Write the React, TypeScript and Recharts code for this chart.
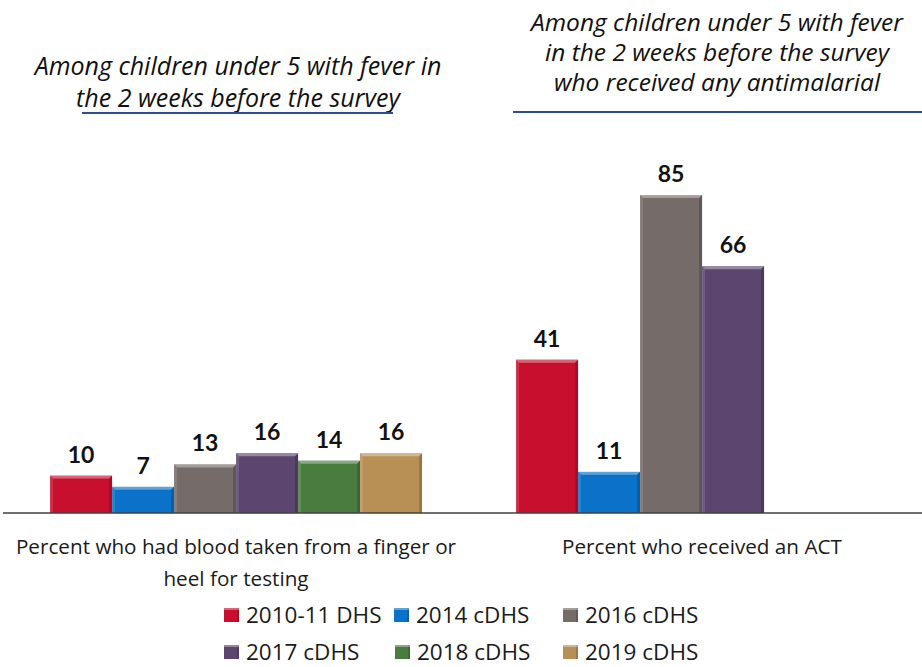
import React from "react";
import { Bar, BarChart, LabelList, XAxis, YAxis } from "recharts";

const categories = [
  "Percent who had blood taken from a finger or heel for testing",
  "Percent who received an ACT",
];
const tickLines = [
  ["Percent who had blood taken from a finger or", "heel for testing"],
  ["Percent who received an ACT"],
];
const seriesNames = ["2010-11 DHS", "2014 cDHS", "2016 cDHS", "2017 cDHS", "2018 cDHS", "2019 cDHS"];
const seriesColors = ["#C8102E", "#0A72C8", "#756B68", "#5C4670", "#4A7C3F", "#B89055"];
const dhs2010 = [10, 41];
const cdhs2014 = [7, 11];
const cdhs2016 = [13, 85];
const cdhs2017 = [16, 66];
const cdhs2018 = [14, null];
const cdhs2019 = [16, null];

const seriesValues = [dhs2010, cdhs2014, cdhs2016, cdhs2017, cdhs2018, cdhs2019];
const data = categories.map((name, i) => {
  const row: Record<string, any> = { name };
  seriesNames.forEach((s, j) => {
    row[s] = seriesValues[j][i];
  });
  return row;
});

const bevelBar = (color: string) => (props: any) => {
  const { x, y, width, height } = props;
  if (!height || height <= 0) return <g />;
  const b = 3;
  return (
    <g>
      <rect x={x} y={y} width={width} height={height} fill={color} />
      <polygon
        points={`${x},${y} ${x + width},${y} ${x + width - b},${y + b} ${x + b},${y + b}`}
        fill="#ffffff"
        fillOpacity={0.35}
      />
      <polygon
        points={`${x},${y} ${x + b},${y + b} ${x + b},${y + height} ${x},${y + height}`}
        fill="#ffffff"
        fillOpacity={0.12}
      />
      <polygon
        points={`${x + width},${y} ${x + width - b},${y + b} ${x + width - b},${y + height} ${x + width},${y + height}`}
        fill="#000000"
        fillOpacity={0.18}
      />
    </g>
  );
};

const CategoryTick = (props: any) => {
  const { x, y, index } = props;
  const lines = tickLines[index] || [];
  return (
    <g>
      {lines.map((l, i) => (
        <text
          key={i}
          x={x}
          y={y + 33 + i * 32}
          textAnchor="middle"
          fontSize={20.7}
          fontFamily="'Open Sans', sans-serif"
          fill="#1a1a1a"
        >
          {l}
        </text>
      ))}
    </g>
  );
};

const titleStyle: React.CSSProperties = {
  position: "absolute",
  fontFamily: "'Open Sans', sans-serif",
  fontStyle: "italic",
  textAlign: "center",
  color: "#111",
  whiteSpace: "nowrap",
};

const legendPos = [
  { x: 224, y: 615 },
  { x: 394, y: 615 },
  { x: 563, y: 615 },
  { x: 224, y: 652 },
  { x: 395, y: 652 },
  { x: 563, y: 652 },
];

export default function App() {
  return (
    <div
      style={{
        position: "absolute",
        left: 0,
        top: 0,
        width: 922,
        height: 667,
        overflow: "hidden",
        background: "#fff",
      }}
    >
      <BarChart
        width={940}
        height={667}
        data={data}
        margin={{ top: 139, right: 5, left: 3, bottom: 0 }}
        barCategoryGap="10.1%"
        barGap={0}
      >
        <XAxis
          dataKey="name"
          tick={<CategoryTick />}
          tickLine={false}
          axisLine={{ stroke: "#404040", strokeWidth: 1.5 }}
          interval={0}
          height={154}
        />
        <YAxis hide domain={[0, 100]} />
        {seriesNames.map((s, j) => (
          <Bar key={s} dataKey={s} fill={seriesColors[j]} shape={bevelBar(seriesColors[j])} isAnimationActive={false}>
            <LabelList
              dataKey={s}
              position="top"
              offset={13}
              fill="#111"
              fontSize={23}
              fontWeight={700}
              fontFamily="Lato, 'Open Sans', sans-serif"
            />
          </Bar>
        ))}
      </BarChart>

      <div style={{ ...titleStyle, left: 0, top: 49, width: 476, fontSize: 25, lineHeight: "32px" }}>
        Among children under 5 with fever in
        <br />
        the 2 weeks before the survey
      </div>
      <div style={{ position: "absolute", left: 82, top: 112, width: 311, height: 1.5, background: "#2E4F8F" }} />
      <div style={{ ...titleStyle, left: 500, top: 7, width: 434, fontSize: 24.5, lineHeight: "30px" }}>
        Among children under 5 with fever
        <br />
        in the 2 weeks before the survey
        <br />
        who received any antimalarial
      </div>
      <div style={{ position: "absolute", left: 513, top: 111, width: 409, height: 1.5, background: "#2E4F8F" }} />

      {seriesNames.map((s, j) => (
        <div
          key={s}
          style={{
            position: "absolute",
            left: legendPos[j].x,
            top: legendPos[j].y - 11,
            height: 22,
            lineHeight: "22px",
            display: "flex",
            alignItems: "center",
            fontFamily: "'Open Sans', sans-serif",
            fontSize: 22.5,
            color: "#1a1a1a",
            whiteSpace: "nowrap",
          }}
        >
          <span
            style={{
              display: "inline-block",
              width: 15,
              height: 14,
              background: seriesColors[j],
              marginRight: 7,
              boxShadow: "inset 0 2px 0 rgba(255,255,255,0.35), inset -2px 0 0 rgba(0,0,0,0.15)",
            }}
          />
          {s}
        </div>
      ))}
    </div>
  );
}
